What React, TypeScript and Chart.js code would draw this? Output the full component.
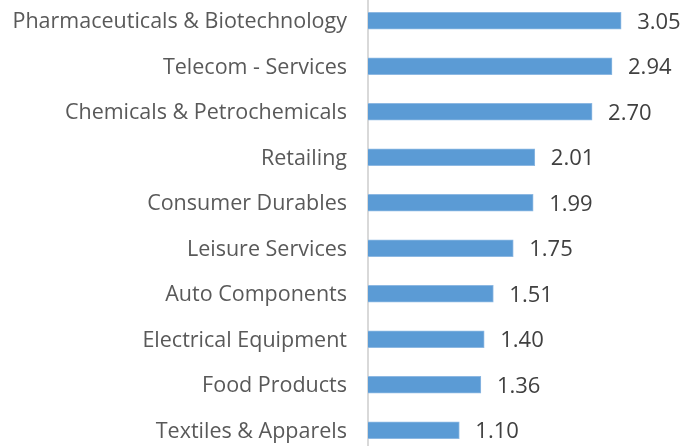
import React, { useEffect, useRef } from "react";
import { Chart, registerables } from "chart.js";

Chart.register(...registerables);

const categories: string[] = [
  "Pharmaceuticals & Biotechnology",
  "Telecom - Services",
  "Chemicals & Petrochemicals",
  "Retailing",
  "Consumer Durables",
  "Leisure Services",
  "Auto Components",
  "Electrical Equipment",
  "Food Products",
  "Textiles & Apparels",
];

const values: number[] = [3.05, 2.94, 2.7, 2.01, 1.99, 1.75, 1.51, 1.4, 1.36, 1.1];

const FONT = "'Open Sans', sans-serif";

const valueLabels = {
  id: "valueLabels",
  afterDatasetsDraw(chart: any) {
    const ctx = chart.ctx;
    const meta = chart.getDatasetMeta(0);
    ctx.save();
    ctx.font = `22px ${FONT}`;
    ctx.fillStyle = "#404040";
    ctx.textAlign = "left";
    ctx.textBaseline = "middle";
    meta.data.forEach((bar: any, i: number) => {
      ctx.fillText(values[i].toFixed(2), bar.x + 16, bar.y + 1.5);
    });
    ctx.restore();
  },
};

export default function App() {
  const ref = useRef<HTMLCanvasElement | null>(null);

  useEffect(() => {
    if (!ref.current) return;
    const chart = new Chart(ref.current, {
      type: "bar",
      data: {
        labels: categories,
        datasets: [
          {
            data: values,
            backgroundColor: "#5B9BD5",
            borderColor: "#8DB8E2",
            borderWidth: 1,
            barThickness: 17,
          },
        ],
      },
      options: {
        indexAxis: "y",
        animation: false,
        responsive: false,
        maintainAspectRatio: false,
        layout: { padding: 0 },
        plugins: {
          legend: { display: false },
          tooltip: { enabled: false },
        },
        scales: {
          x: {
            display: false,
            min: 0,
            max: 4,
          },
          y: {
            grid: { display: false, drawTicks: false },
            border: { display: true, color: "#D9D9D9", width: 2 },
            ticks: {
              padding: 21,
              labelOffset: 1.5,
              color: "#595959",
              font: { family: FONT, size: 21.5 },
            },
            afterFit(scale: any) {
              scale.width = 368;
              scale.paddingTop = 0;
              scale.paddingBottom = 0;
            },
          },
        },
      },
      plugins: [valueLabels],
    });
    return () => chart.destroy();
  }, []);

  return (
    <div
      style={{
        position: "fixed",
        top: 0,
        left: 0,
        width: 690,
        height: 446,
        overflow: "hidden",
        background: "#fff",
      }}
    >
      <canvas
        ref={ref}
        width={700}
        height={455}
        style={{ position: "absolute", top: -2, left: 0, width: 700, height: 455 }}
      />
    </div>
  );
}
